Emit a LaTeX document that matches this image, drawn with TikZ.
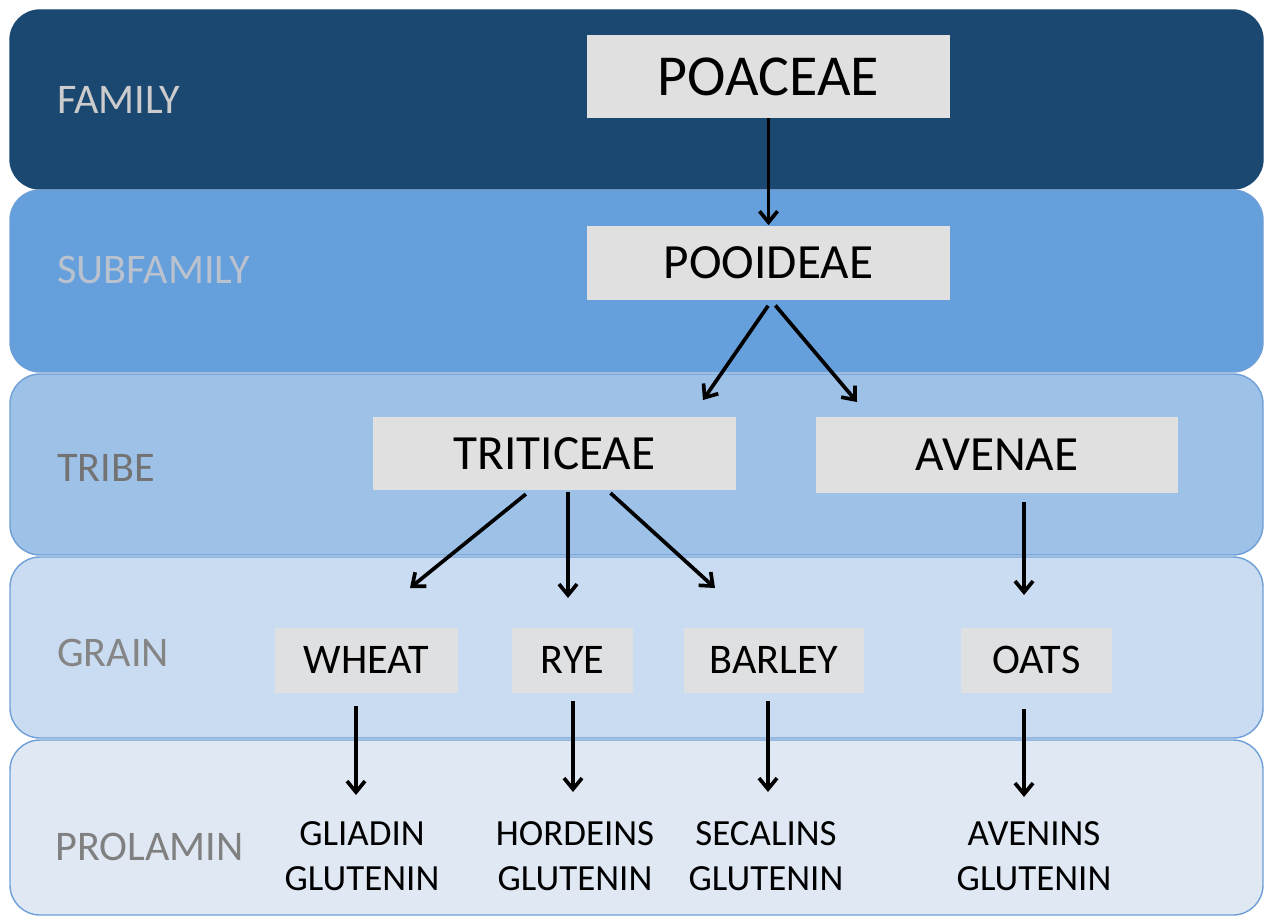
\documentclass[tikz,border=0pt]{standalone}
\usepackage{fontspec}
\setmainfont{Carlito}
\usetikzlibrary{arrows.meta, calc}
\definecolor{famblue}{HTML}{1B4870}
\definecolor{subblue}{HTML}{659FDC}
\definecolor{triblue}{HTML}{9DC1E7}
\definecolor{grablue}{HTML}{CADCF1}
\definecolor{problue}{HTML}{E0E8F4}
\definecolor{bandline}{HTML}{6E9FD6}
\definecolor{boxgray}{HTML}{E0E0E0}
\definecolor{subtext}{HTML}{B9C2CE}
\newcommand\rb{0.6cm}
\newcommand\wb{7.26cm}
\newcommand\hg{1.3cm}

\begin{document}
\begin{tikzpicture}[x=0.02cm, y=-0.02cm,
    band/.style={draw=bandline, line width=0.8pt, rounded corners=\rb},
    taxon/.style={fill=boxgray, inner sep=0pt, font=\fontsize{28}{30}\selectfont},
    grain/.style={fill=boxgray!96!grablue, inner sep=0pt, minimum height=\hg, font=\fontsize{24}{26}\selectfont},
    rank/.style={anchor=west, inner sep=0pt, font=\fontsize{24}{26}\selectfont},
    prot/.style={align=center, inner sep=0pt, font=\fontsize{21}{26}\selectfont},
    arr/.style={-{Straight Barb[length=2.2mm, width=3.6mm, line width=2.1pt]}, line width=2.1pt, black}]
    \useasboundingbox (0,0) rectangle (1270,919);

    % the five rank bands
    \draw[band, fill=famblue, draw=famblue] (10,10) rectangle (1263,189);
    \draw[band, fill=subblue] (10,190) rectangle (1263,372);
    \draw[band, fill=triblue] (10,374) rectangle (1263,555);
    \draw[band, fill=grablue] (10,557) rectangle (1263,738);
    \draw[band, fill=problue] (10,740) rectangle (1263,915);

    \node (lfam) [rank, text=gray!40] at (57,100) {FAMILY};
    \node (lsub) [rank, text=subtext] at (57,270) {SUBFAMILY};
    \node (ltri) [rank, text=black!55] at (57,468) {TRIBE};
    \node (lgra) [rank, text=black!48] at (57,653) {GRAIN};
    \node (lpro) [rank, text=black!50] at (55,847) {PROLAMIN};

    \node (poa) [taxon, minimum width=\wb, minimum height=1.66cm, font=\fontsize{33}{35}\selectfont] at (768.5,76.5) {POACEAE};
    \node (poo) [taxon, minimum width=\wb, minimum height=1.5cm] at (768.5,263) {POOIDEAE};
    \node (tri) [taxon, minimum width=\wb, minimum height=1.46cm] at (554.5,453.5) {TRITICEAE};
    \node (ave) [taxon, minimum width=7.24cm, minimum height=1.52cm] at (997,455) {AVENAE};

    \node (wheat) [grain, minimum width=3.66cm] at (366.5,660) {WHEAT};
    \node (rye) [grain, minimum width=2.42cm] at (572.5,660) {RYE};
    \node (barley) [grain, minimum width=3.6cm] at (774,660) {BARLEY};
    \node (oats) [grain, minimum width=3.02cm] at (1036.5,660) {OATS};

    \node (gli) [prot] at (362,856) {GLIADIN\\GLUTENIN};
    \node (hor) [prot] at (575,856) {HORDEINS\\GLUTENIN};
    \node (sec) [prot] at (766,856) {SECALINS\\GLUTENIN};
    \node (avn) [prot] at (1034,856) {AVENINS\\GLUTENIN};

    % arrow tips that stop short of the boxes
    \coordinate (tri-tip) at (703,400);
    \coordinate (ave-tip) at (857,402);
    \coordinate (wheat-tip) at (410,588);
    \coordinate (rye-tip) at (568,598);
    \coordinate (barley-tip) at (715,588);
    \coordinate (oats-tip) at (1024,595);
    \coordinate (gli-tip) at (356,795);
    \coordinate (hor-tip) at (573,792);
    \coordinate (sec-tip) at (768,792);
    \coordinate (avn-tip) at (1024,797);

    \draw[arr] (poa) -- (poo);
    \draw[arr, shorten <=0.12cm] ($(poo.south)+(3,0)$) -- (tri-tip);
    \draw[arr, shorten <=0.12cm] ($(poo.south)+(3,0)$) -- (ave-tip);

    \draw[arr, shorten <=0.12cm] ($(tri.south)+(-24,0)$) -- (wheat-tip);
    \draw[arr, shorten <=0.04cm] (tri.south -| rye-tip) -- (rye-tip);
    \draw[arr, shorten <=0.08cm] ($(tri.south)+(53,0)$) -- (barley-tip);
    \draw[arr, shorten <=0.18cm] (ave.south -| oats-tip) -- (oats-tip);

    \draw[arr, shorten <=0.26cm] (wheat.south -| gli-tip) -- (gli-tip);
    \draw[arr, shorten <=0.16cm] (rye.south -| hor-tip) -- (hor-tip);
    \draw[arr, shorten <=0.16cm] (barley.south -| sec-tip) -- (sec-tip);
    \draw[arr, shorten <=0.32cm] (oats.south -| avn-tip) -- (avn-tip);

\end{tikzpicture}
\end{document}
